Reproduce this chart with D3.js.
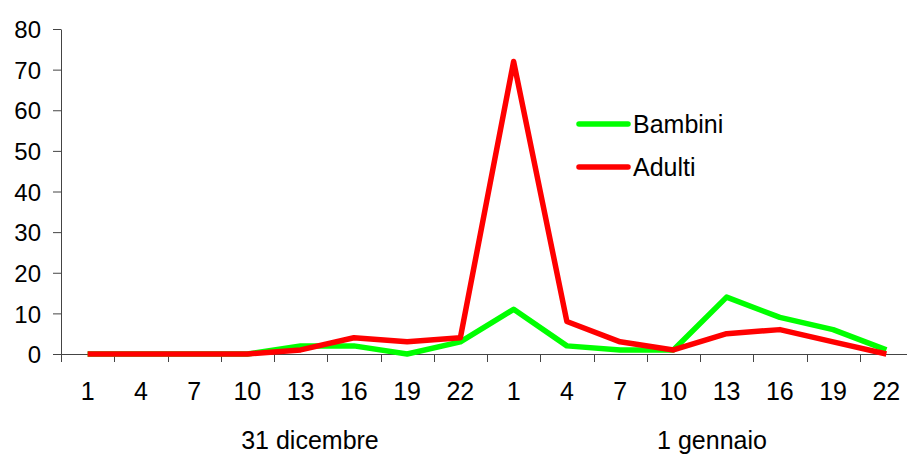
<!DOCTYPE html>
<html>
<head>
<meta charset="utf-8">
<script src="https://cdn.jsdelivr.net/npm/d3@7"></script>
<style>
  html, body { margin: 0; padding: 0; background: #fff; }
  svg { display: block; }
  text { font-family: "Liberation Sans", Arial, sans-serif; fill: #000; }
</style>
</head>
<body>
<svg id="chart" width="907" height="457"></svg>
<script>
// ---- data ----
const hours = ["1","4","7","10","13","16","19","22","1","4","7","10","13","16","19","22"];
const groups = ["31 dicembre", "1 gennaio"];
const bambini = [0,0,0,0,2,2,0,3,11,2,1,1,14,9,6,1];
const adulti  = [0,0,0,0,1,4,3,4,72,8,3,1,5,6,3,0];
const yTicks = [0,10,20,30,40,50,60,70,80];
const seriesNames = ["Bambini", "Adulti"];
const seriesColors = ["#00ff00", "#ff0000"];

// ---- layout ----
const svg = d3.select("#chart");
const mLeft = 61, mRight = 913, mTop = 29, mBottom = 354;
const fs = "25px";
const idx = d3.range(hours.length);

const x = d3.scaleBand().domain(idx).range([mLeft, mRight]).paddingInner(0).paddingOuter(0);
const y = d3.scaleLinear().domain([0, 80]).range([mBottom, mTop]);

// y axis
const yAxis = svg.append("g").attr("transform", `translate(${mLeft},0)`)
  .call(d3.axisLeft(y).tickValues(yTicks).tickSize(8).tickPadding(12).tickSizeOuter(0));
yAxis.select(".domain").attr("stroke", "#444");
yAxis.selectAll(".tick line").attr("stroke", "#444");
yAxis.selectAll(".tick text").style("font-size", "24px").attr("dy", "0.36em")
  .style("font-family", "'Liberation Sans', Arial, sans-serif").attr("fill", "#000");

// x axis: tick marks at band boundaries
const xg = svg.append("g");
xg.append("line").attr("x1", mLeft).attr("x2", 907).attr("y1", mBottom + 0.5).attr("y2", mBottom + 0.5)
  .attr("stroke", "#444");
const bounds = d3.range(hours.length + 1).map(i => i < hours.length ? x(i) : x(hours.length - 1) + x.bandwidth());
xg.selectAll("line.tk").data(bounds).join("line").attr("class", "tk")
  .attr("x1", d => Math.round(d) + 0.5).attr("x2", d => Math.round(d) + 0.5)
  .attr("y1", mBottom).attr("y2", mBottom + 8).attr("stroke", "#444");
xg.selectAll("text.hl").data(idx).join("text").attr("class", "hl")
  .attr("x", i => x(i) + x.bandwidth() / 2).attr("y", 400)
  .attr("text-anchor", "middle").style("font-size", fs)
  .text(i => hours[i]);

// group labels
const groupX = [310, 712];
svg.selectAll("text.grp").data(groups).join("text").attr("class", "grp")
  .attr("x", (d, i) => groupX[i]).attr("y", 449)
  .attr("text-anchor", "middle").style("font-size", fs)
  .text(d => d);

// lines
const line = d3.line().x((d, i) => x(i) + x.bandwidth() / 2).y(d => y(d)).curve(d3.curveLinear);
[bambini, adulti].forEach((s, k) => {
  svg.append("path").datum(s).attr("d", line)
    .attr("fill", "none").attr("stroke", seriesColors[k])
    .attr("stroke-width", 5.5).attr("stroke-linejoin", "round").attr("stroke-linecap", "butt");
});

// legend
const leg = svg.append("g");
seriesNames.forEach((n, k) => {
  const ly = 124 + k * 43;
  leg.append("line").attr("x1", 579).attr("x2", 628).attr("y1", ly).attr("y2", ly)
    .attr("stroke", seriesColors[k]).attr("stroke-width", 5.5).attr("stroke-linecap", "round");
  leg.append("text").attr("x", 633).attr("y", ly).attr("dy", "0.36em")
    .style("font-size", fs).text(n);
});
</script>
</body>
</html>
